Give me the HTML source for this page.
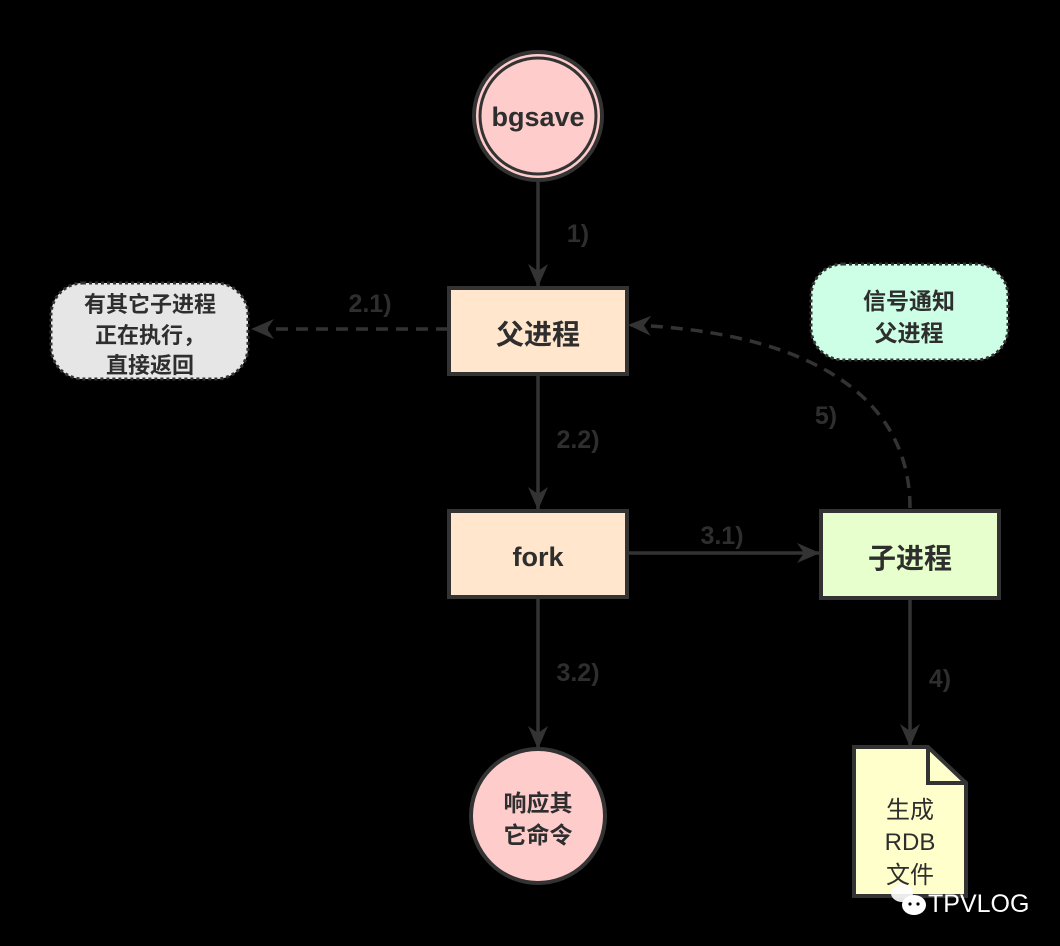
<!DOCTYPE html>
<html><head><meta charset="utf-8"><style>
html,body{margin:0;padding:0;background:#000;}
svg{display:block;}
text{font-family:"Liberation Sans","Noto Sans CJK SC",sans-serif;fill:#2e2e2e;}
.b{font-weight:bold;}
</style></head><body>
<svg width="1060" height="946" viewBox="0 0 1060 946" xmlns="http://www.w3.org/2000/svg">
<defs>
<marker id="A" markerWidth="26" markerHeight="26" refX="22" refY="12" orient="auto" markerUnits="userSpaceOnUse">
<path d="M0,2 L23,12 L0,22 L7,12 z" fill="#333"/>
</marker>
</defs>
<rect width="1060" height="946" fill="#000"/>
<circle cx="538" cy="116" r="64" fill="#ffcccc" stroke="#333" stroke-width="4"/>
<circle cx="538" cy="116" r="58" fill="none" stroke="#333" stroke-width="3"/>
<text x="538" y="126" font-size="27" text-anchor="middle" class="b">bgsave</text>
<line x1="538" y1="182" x2="538" y2="286" stroke="#333" stroke-width="3.5" marker-end="url(#A)"/>
<text x="578" y="242" font-size="25" text-anchor="middle" class="b">1)</text>
<rect x="449" y="288" width="178" height="86" fill="#ffe6cc" stroke="#333" stroke-width="4"/>
<text x="538" y="344" font-size="28" text-anchor="middle" class="b">父进程</text>
<line x1="448" y1="329" x2="252" y2="329" stroke="#333" stroke-width="3.5" stroke-dasharray="12,8" marker-end="url(#A)"/>
<text x="370" y="312" font-size="25" text-anchor="middle" class="b">2.1)</text>
<rect x="51" y="283" width="197" height="96" rx="32" fill="#e6e6e6" stroke="#333" stroke-width="3" stroke-dasharray="3,3"/>
<text x="150" y="312" font-size="22" text-anchor="middle" class="b">有其它子进程</text>
<text x="150" y="343" font-size="22" text-anchor="middle" class="b">正在执行，</text>
<text x="150" y="373" font-size="22" text-anchor="middle" class="b">直接返回</text>
<rect x="811" y="264" width="197" height="96" rx="32" fill="#ccffe6" stroke="#333" stroke-width="3" stroke-dasharray="3,3"/>
<text x="909" y="309" font-size="23" text-anchor="middle" class="b">信号通知</text>
<text x="909" y="341" font-size="23" text-anchor="middle" class="b">父进程</text>
<path d="M910,508 C910,380 780,330 629,325" fill="none" stroke="#333" stroke-width="3.5" stroke-dasharray="12,8" marker-end="url(#A)"/>
<text x="826" y="424" font-size="25" text-anchor="middle" class="b">5)</text>
<line x1="538" y1="376" x2="538" y2="509" stroke="#333" stroke-width="3.5" marker-end="url(#A)"/>
<text x="578" y="448" font-size="25" text-anchor="middle" class="b">2.2)</text>
<rect x="449" y="511" width="178" height="86" fill="#ffe6cc" stroke="#333" stroke-width="4"/>
<text x="538" y="566" font-size="27" text-anchor="middle" class="b">fork</text>
<line x1="628" y1="553" x2="819" y2="553" stroke="#333" stroke-width="3.5" marker-end="url(#A)"/>
<text x="722" y="544" font-size="25" text-anchor="middle" class="b">3.1)</text>
<rect x="821" y="511" width="178" height="87" fill="#e6ffcc" stroke="#333" stroke-width="4"/>
<text x="910" y="568" font-size="28" text-anchor="middle" class="b">子进程</text>
<line x1="538" y1="599" x2="538" y2="748" stroke="#333" stroke-width="3.5" marker-end="url(#A)"/>
<text x="578" y="681" font-size="25" text-anchor="middle" class="b">3.2)</text>
<circle cx="538" cy="816" r="67" fill="#ffcccc" stroke="#333" stroke-width="4"/>
<text x="538" y="811" font-size="23" text-anchor="middle" class="b">响应其</text>
<text x="538" y="843" font-size="23" text-anchor="middle" class="b">它命令</text>
<line x1="910" y1="600" x2="910" y2="746" stroke="#333" stroke-width="3.5" marker-end="url(#A)"/>
<text x="940" y="687" font-size="25" text-anchor="middle" class="b">4)</text>
<path d="M854,747 L928,747 L966,783 L966,896 L854,896 Z" fill="#ffffcc" stroke="#333" stroke-width="4"/>
<path d="M928,747 L928,783 L966,783" fill="none" stroke="#333" stroke-width="4"/>
<text x="910" y="818" font-size="24" text-anchor="middle">生成</text>
<text x="910" y="850" font-size="24" text-anchor="middle">RDB</text>
<text x="910" y="883" font-size="24" text-anchor="middle">文件</text>
<ellipse cx="902" cy="893" rx="11" ry="9" fill="#fff" opacity="0.9"/>
<ellipse cx="914" cy="905" rx="12" ry="10" fill="#fff"/>
<circle cx="910" cy="904" r="1.6" fill="#000"/>
<circle cx="918" cy="904" r="1.6" fill="#000"/>
<text x="928" y="912" font-size="25" style="fill:#fff">TPVLOG</text>
</svg>
</body></html>
